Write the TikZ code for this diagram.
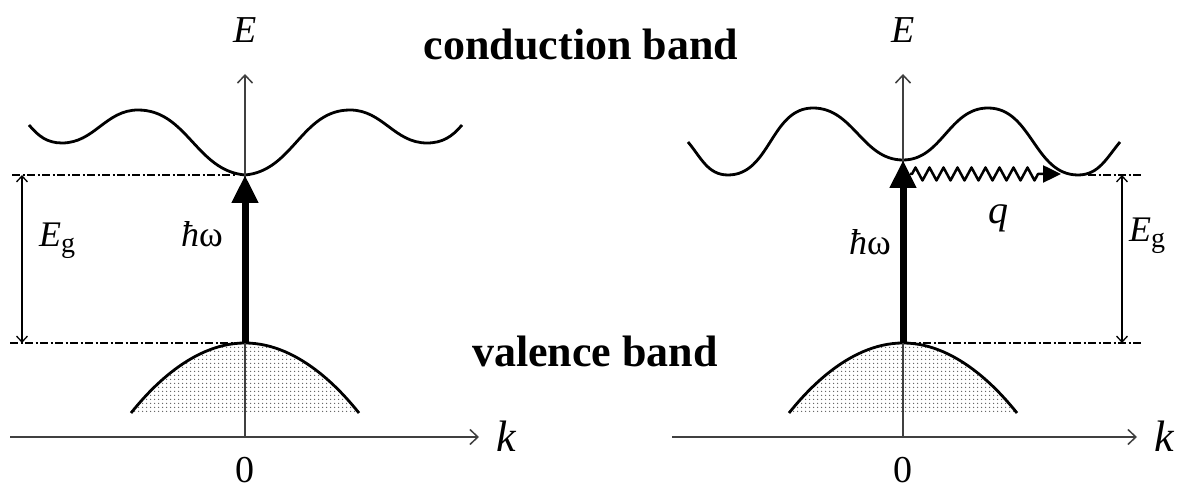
\documentclass[tikz,border=0pt]{standalone}
\usepackage{fontspec}
\setmainfont{Liberation Serif}
\usetikzlibrary{arrows.meta,patterns,decorations.pathmorphing}
\pgfdeclarepatternformonly{stipple}{\pgfpointorigin}{\pgfqpoint{3.6pt}{3.6pt}}{\pgfqpoint{3.6pt}{3.6pt}}{%
  \pgfpathcircle{\pgfqpoint{1.8pt}{1.8pt}}{0.75pt}\pgfusepath{fill}}
\begin{document}
\begin{tikzpicture}[x=1pt,y=1pt,
  axis/.style={line width=1.5pt, draw=black!75, -{Straight Barb[length=8pt,width=15pt,line width=1.5pt]}},
  gapline/.style={line width=1.3pt, dash pattern=on 8pt off 2.5pt on 2pt off 2.5pt},
  gaparrow/.style={line width=1.3pt, {Straight Barb[length=6pt,width=11pt]}-{Straight Barb[length=6pt,width=11pt]}},
  photon/.style={line width=7pt, -{Triangle[length=28pt,width=25pt]}},
  phonon/.style={line width=2.5pt, line join=round, -{Triangle[length=18pt,width=17pt]}, decorate,
    decoration={zigzag, amplitude=6.5pt, segment length=14pt, pre length=2pt, post length=17pt}},
  band/.style={line width=2.8pt},
  fillband/.style={pattern=stipple, pattern color=black!65},
  lbl/.style={font=\fontsize{36}{36}\selectfont\itshape, inner sep=0pt},
  num/.style={font=\fontsize{38}{38}\selectfont, inner sep=0pt},
  big/.style={font=\fontsize{44}{44}\selectfont\bfseries, inner sep=0pt},
]
\useasboundingbox (0,0) rectangle (1184,492);

% ---------- left panel ----------
\fill[fillband] (131,79) parabola bend (245,149) (359,79) -- cycle;
\draw[band] (131,79) parabola bend (245,149) (359,79);
\draw[band] (29,367) to[out=-50,in=180] (62,349) to[out=0,in=180] (138,382)
  to[out=0,in=175] (245,317) to[out=5,in=180] (350,382)
  to[out=0,in=180] (427,349) to[out=0,in=-130] (462,367);

\coordinate (L0) at (245,55);
\coordinate (Ltop) at (245,418);
\coordinate (Lkl) at (10,55);
\coordinate (Lkr) at (479,55);
\coordinate (Lc) at (245,317);
\coordinate (Lv) at (245,149);
\coordinate (Ldc) at (12,317);
\coordinate (Ldce) at (236,317);
\coordinate (Ldv) at (10,149);
\coordinate (Ldve) at (240,149);
\coordinate (Lgt) at (22,317);
\coordinate (Lgb) at (22,149);

\draw[axis] (L0) -- (Ltop);
\draw[axis] (Lkl) -- (Lkr);
\draw[gapline] (Ldc) -- (Ldce);
\draw[gapline] (Ldv) -- (Ldve);
\draw[gaparrow] (Lgb) -- (Lgt);
\draw[photon] (Lv) -- (Lc);

\node[lbl, font=\fontsize{38}{38}\selectfont\itshape] (LE) at (245,462) {E};
\node[lbl, font=\fontsize{44}{44}\selectfont\itshape] (Lk) at (506,56) {k};
\node[num] (Lzero) at (245,22) {0};
\node[lbl, anchor=base west] (LEg) at (39,245) {E\raisebox{-6pt}{\upshape\fontsize{28}{28}\selectfont g}};
\node[lbl, anchor=base east] (Lhw) at (223,245) {ħ\upshape ω};

% ---------- right panel ----------
\fill[fillband] (789,79) parabola bend (903,149) (1017,79) -- cycle;
\draw[band] (789,79) parabola bend (903,149) (1017,79);
\draw[band] (688,350) to[out=-50,in=180] (728,317) to[out=0,in=180] (813,384)
  to[out=0,in=180] (903,332) to[out=0,in=180] (988,384)
  to[out=0,in=180] (1078,317) to[out=0,in=-130] (1120,350);

\coordinate (R0) at (903,55);
\coordinate (Rtop) at (903,418);
\coordinate (Rkl) at (672,55);
\coordinate (Rkr) at (1137,55);
\coordinate (Rc) at (903,332);
\coordinate (Rv) at (903,149);
\coordinate (Rdc) at (1088,317);
\coordinate (Rdce) at (1143,317);
\coordinate (Rdv) at (908,149);
\coordinate (Rdve) at (1143,149);
\coordinate (Rgt) at (1122,317);
\coordinate (Rgb) at (1122,149);
\coordinate (Qs) at (910,318);
\coordinate (Qe) at (1061,318);

\draw[axis] (R0) -- (Rtop);
\draw[axis] (Rkl) -- (Rkr);
\draw[gapline] (Rdc) -- (Rdce);
\draw[gapline] (Rdv) -- (Rdve);
\draw[gaparrow] (Rgb) -- (Rgt);
\draw[photon] (Rv) -- (Rc);
\draw[phonon] (Qs) -- (Qe);

\node[lbl, font=\fontsize{38}{38}\selectfont\itshape] (RE) at (903,462) {E};
\node[lbl, font=\fontsize{44}{44}\selectfont\itshape] (Rk) at (1164,56) {k};
\node[num] (Rzero) at (903,22) {0};
\node[lbl, anchor=base west] (REg) at (1129,250) {E\raisebox{-6pt}{\upshape\fontsize{28}{28}\selectfont g}};
\node[lbl, anchor=base east] (Rhw) at (891,237) {ħ\upshape ω};
\node[lbl, font=\fontsize{40}{40}\selectfont\itshape] (Rq) at (998,274) {q};

% ---------- band names ----------
\node[big, anchor=base] (cb) at (581,432) {conduction band};
\node[big, anchor=base] (vb) at (595,125) {valence band};
\end{tikzpicture}
\end{document}
